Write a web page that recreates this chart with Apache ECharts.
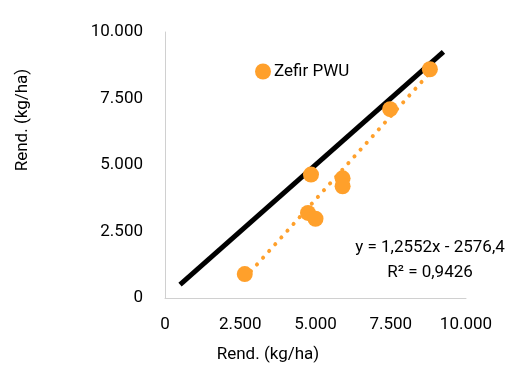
<!DOCTYPE html>
<html><head><meta charset="utf-8">
<script src="https://cdn.jsdelivr.net/npm/echarts@6/dist/echarts.min.js"></script>
<style>html,body{margin:0;padding:0;background:#fff}#c{width:515px;height:371px}</style>
</head><body><div id="c"></div>
<script>
var seriesName = 'Zefir PWU';
var xValues = [2650, 4850, 4750, 5000, 5900, 5900, 7480, 8800];
var yValues = [900, 4640, 3200, 2980, 4500, 4200, 7100, 8600];
var refLineX = [500, 9250];
var trendSlope = 1.2552, trendIntercept = -2576.4;
var trendX = [2650, 8800];
var eqText = 'y = 1,2552x - 2576,4';
var r2Text = 'R² = 0,9426';
var axisTitle = 'Rend. (kg/ha)';
var axisMin = 0, axisMax = 10000, axisStep = 2500;

function fmt(v){ return String(v).replace(/\B(?=(\d{3})+(?!\d))/g, '.'); }
var pts = xValues.map(function(x,i){return [x, yValues[i]];});
var refPts = refLineX.map(function(x){return [x, x];});
var trendPts = trendX.map(function(x){return [x, trendSlope*x + trendIntercept];});
var font = 'Roboto';
var fs = 17;
var chart = echarts.init(document.getElementById('c'));
chart.setOption({
  animation:false,
  textStyle:{fontFamily:font},
  grid:{left:165, right:49, top:32, bottom:73},
  legend:{data:[seriesName], left:255, top:63, padding:0, icon:'circle', itemWidth:16, itemHeight:16, itemGap:4,
    textStyle:{fontFamily:font, fontSize:fs, color:'#000', padding:[0,0,0,-2]}},
  xAxis:{type:'value', min:axisMin, max:axisMax, interval:axisStep,
    axisLine:{show:true, lineStyle:{color:'#d0d0d0', width:1}}, axisTick:{show:false}, splitLine:{show:false},
    axisLabel:{formatter:fmt, fontSize:fs, color:'#000', margin:18, fontFamily:font}},
  yAxis:{type:'value', min:axisMin, max:axisMax, interval:axisStep,
    axisLine:{show:true, lineStyle:{color:'#d0d0d0', width:1}}, axisTick:{show:false}, splitLine:{show:false},
    axisLabel:{formatter:fmt, fontSize:fs, color:'#000', margin:22, fontFamily:font}},
  graphic:[
    {type:'text', x:268, y:355, style:{text:axisTitle, fontSize:fs, fill:'#000', fontFamily:font, textAlign:'center', textVerticalAlign:'middle'}},
    {type:'text', x:23, y:120, rotation:Math.PI/2, style:{text:axisTitle, fontSize:fs, fill:'#000', fontFamily:font, textAlign:'center', textVerticalAlign:'middle'}},
    {type:'text', x:430, y:248, style:{text:eqText, fontSize:fs, fill:'#000', fontFamily:font, textAlign:'center', textVerticalAlign:'middle'}},
    {type:'text', x:430, y:273, style:{text:r2Text, fontSize:fs, fill:'#000', fontFamily:font, textAlign:'center', textVerticalAlign:'middle'}}
  ],
  series:[
    {type:'line', data:refPts, symbol:'none', lineStyle:{color:'#000', width:5}, silent:true, z:2},
    {type:'line', data:trendPts, symbol:'none', lineStyle:{color:'#ffa02b', width:4, type:[0.1,9], cap:'round'}, silent:true, z:3},
    {name:seriesName, type:'scatter', data:pts, symbol:'circle', symbolSize:16, itemStyle:{color:'#ffa02b', opacity:1}, z:4}
  ]
});
</script></body></html>
